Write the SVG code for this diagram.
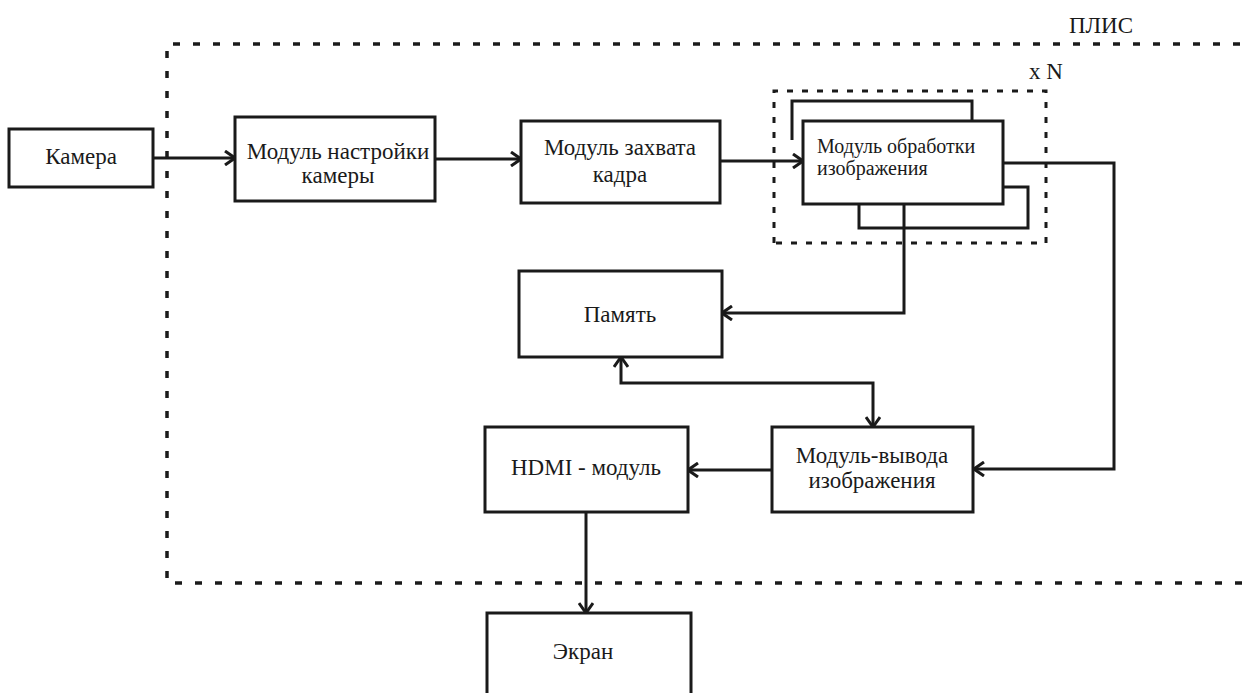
<svg xmlns="http://www.w3.org/2000/svg" width="1248" height="693" viewBox="0 0 1248 693">
  <style>
    .box { fill: #ffffff; stroke: #1a1a1a; stroke-width: 3; }
    .line { fill: none; stroke: #1a1a1a; stroke-width: 3; }
    .txt { font-family: "Liberation Serif", "Times New Roman", serif; font-size: 23px; fill: #1a1a1a; text-anchor: middle; }
    .txt-s { font-family: "Liberation Serif", "Times New Roman", serif; font-size: 20px; fill: #1a1a1a; }
    .outer { fill: none; stroke: #1a1a1a; stroke-width: 3.5; stroke-dasharray: 7 13; }
    .inner { fill: none; stroke: #1a1a1a; stroke-width: 3; stroke-dasharray: 6 9; }
  </style>
  <defs>
    <marker id="arrow" viewBox="0 0 12 16" refX="11" refY="8" markerWidth="12" markerHeight="16" markerUnits="userSpaceOnUse" orient="auto-start-reverse">
      <path d="M1,1 L11,8 L1,15" fill="none" stroke="#1a1a1a" stroke-width="3"/>
    </marker>
  </defs>
  <rect width="1248" height="693" fill="#ffffff"/>

  <g id="fpga">
    <polyline class="outer" points="1260,44 167,44 167,583 1260,583"/>
    <text class="txt" x="1101" y="33">ПЛИС</text>
  </g>

  <g id="xn-group">
    <polyline class="inner" points="774,243 774,91 1046,91 1046,243 774,243"/>
    <text class="txt" x="1046" y="79">x N</text>
  </g>

  <g id="connectors">
    <line class="line" x1="153" y1="158" x2="235" y2="158" marker-end="url(#arrow)"/>
    <line class="line" x1="435" y1="159" x2="521" y2="159" marker-end="url(#arrow)"/>
    <line class="line" x1="720" y1="161" x2="803" y2="161" marker-end="url(#arrow)"/>
    <polyline class="line" points="1003,163 1114,163 1114,469 974,469" marker-end="url(#arrow)"/>
    <polyline class="line" points="904,204 904,313 722,313" marker-end="url(#arrow)"/>
    <polyline class="line" points="621,357 621,383 873,383 873,427" marker-start="url(#arrow)" marker-end="url(#arrow)"/>
    <line class="line" x1="772" y1="470" x2="688" y2="470" marker-end="url(#arrow)"/>
    <line class="line" x1="586" y1="512" x2="586" y2="613" marker-end="url(#arrow)"/>
  </g>

  <g id="camera">
    <rect class="box" x="9" y="129" width="144" height="58"/>
    <text class="txt" x="81" y="164">Камера</text>
  </g>

  <g id="cam-setup">
    <rect class="box" x="235" y="117" width="200" height="84"/>
    <text class="txt" x="338" y="159">Модуль настройки</text>
    <text class="txt" x="338" y="183">камеры</text>
  </g>

  <g id="frame-capture">
    <rect class="box" x="521" y="121" width="199" height="82"/>
    <text class="txt" x="620" y="155">Модуль захвата</text>
    <text class="txt" x="620" y="182">кадра</text>
  </g>

  <g id="image-processing">
    <polyline class="line" points="792,140 792,101 972,101 972,121"/>
    <polyline class="line" points="1003,187 1028,187 1028,228 859,228 859,204"/>
    <rect class="box" x="803" y="121" width="200" height="83"/>
    <text class="txt-s" x="817" y="153">Модуль обработки</text>
    <text class="txt-s" x="817" y="175">изображения</text>
  </g>

  <g id="memory">
    <rect class="box" x="519" y="271" width="203" height="86"/>
    <text class="txt" x="620" y="322">Память</text>
  </g>

  <g id="hdmi">
    <rect class="box" x="485" y="427" width="203" height="85"/>
    <text class="txt" x="586" y="475">HDMI - модуль</text>
  </g>

  <g id="image-output">
    <rect class="box" x="772" y="427" width="201" height="85"/>
    <text class="txt" x="872" y="463">Модуль-вывода</text>
    <text class="txt" x="872" y="488">изображения</text>
  </g>

  <g id="screen">
    <rect class="box" x="487" y="613" width="204" height="100"/>
    <text class="txt" x="583" y="659">Экран</text>
  </g>
</svg>
